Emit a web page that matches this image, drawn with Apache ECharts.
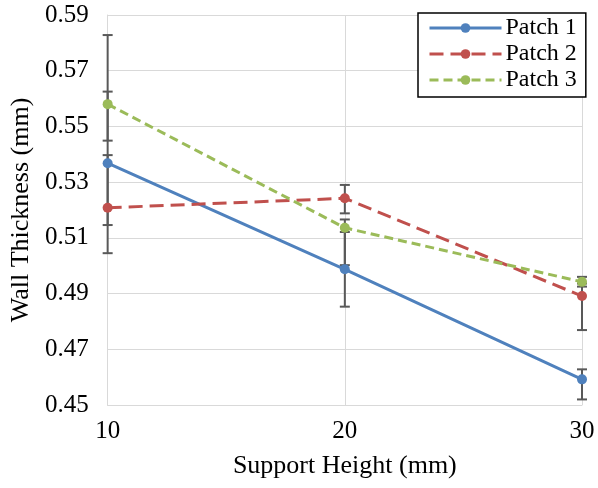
<!DOCTYPE html>
<html>
<head>
<meta charset="utf-8">
<script src="https://cdn.jsdelivr.net/npm/echarts@6/dist/echarts.min.js"></script>
<style>html,body{margin:0;padding:0;background:#fff}#c{width:598px;height:488px}</style>
</head>
<body>
<div id="c"></div>
<script>
var xValues = [10, 20, 30];
var yTicks = ['0.45','0.47','0.49','0.51','0.53','0.55','0.57','0.59'];
var seriesNames = ['Patch 1', 'Patch 2', 'Patch 3'];
var patch1 = [0.5368, 0.4987, 0.4592];
var patch2 = [0.5208, 0.5242, 0.4891];
var patch3 = [0.5580, 0.5136, 0.4942];
var patch1Low = [0.5146, 0.4853, 0.4520];
var patch1High = [0.5625, 0.5121, 0.4628];
var patch2Low = [0.5045, 0.5188, 0.4769];
var patch2High = [0.5397, 0.5290, 0.4936];
var patch3Low = [0.5449, 0.5002, 0.4925];
var patch3High = [0.5828, 0.5166, 0.4960];

var colors = ['#4F81BD', '#C0504D', '#9BBB59'];
var dashes = ['solid', [14, 7], [9, 5]];
var values = [patch1, patch2, patch3];
var lows = [patch1Low, patch2Low, patch3Low];
var highs = [patch1High, patch2High, patch3High];
var font = '"Liberation Serif", "Times New Roman", serif';

var series = [];
for (var s = 0; s < 3; s++) {
  var errData = [];
  for (var i = 0; i < xValues.length; i++) errData.push([xValues[i], lows[s][i], highs[s][i]]);
  series.push({
    type: 'custom',
    name: 'err' + s,
    z: 1,
    silent: true,
    data: errData,
    renderItem: function (params, api) {
      var x = api.value(0);
      var lo = api.coord([x, api.value(1)]);
      var hi = api.coord([x, api.value(2)]);
      var hw = 5;
      var st = {stroke: '#595959', lineWidth: 2};
      return {type: 'group', children: [
        {type: 'line', shape: {x1: lo[0], y1: lo[1], x2: hi[0], y2: hi[1]}, style: st},
        {type: 'line', shape: {x1: lo[0] - hw, y1: lo[1], x2: lo[0] + hw, y2: lo[1]}, style: st},
        {type: 'line', shape: {x1: hi[0] - hw, y1: hi[1], x2: hi[0] + hw, y2: hi[1]}, style: st}
      ]};
    }
  });
}
for (var s2 = 0; s2 < 3; s2++) {
  var d = [];
  for (var j = 0; j < xValues.length; j++) d.push([xValues[j], values[s2][j]]);
  series.push({
    type: 'line',
    name: seriesNames[s2],
    z: 5,
    data: d,
    symbol: 'circle',
    symbolSize: 10,
    showSymbol: true,
    lineStyle: {color: colors[s2], width: 3, type: dashes[s2]},
    itemStyle: {color: colors[s2]}
  });
}

var chart = echarts.init(document.getElementById('c'));
chart.setOption({
  animation: false,
  backgroundColor: '#fff',
  grid: {left: 107, right: 16, top: 15, bottom: 83, containLabel: false},
  legend: {
    data: seriesNames,
    orient: 'vertical',
    left: 418,
    top: 13,
    padding: [3, 9, 5, 10],
    itemGap: 2,
    itemWidth: 72,
    itemHeight: 12,
    borderColor: '#000',
    borderWidth: 1.5,
    borderRadius: 0,
    backgroundColor: '#fff',
    lineStyle: {width: 3},
    textStyle: {fontFamily: font, fontSize: 24, color: '#000', padding: [0, 0, 0, -1]}
  },
  xAxis: {
    type: 'value',
    min: 10, max: 30, interval: 10,
    name: 'Support Height (mm)',
    nameLocation: 'middle',
    nameGap: 48,
    nameTextStyle: {fontFamily: font, fontSize: 26, color: '#000'},
    axisLine: {show: true, lineStyle: {color: '#D9D9D9', width: 1}},
    axisTick: {show: false},
    axisLabel: {fontFamily: font, fontSize: 25, color: '#000', margin: 14},
    splitLine: {show: true, lineStyle: {color: '#D9D9D9', width: 1}}
  },
  yAxis: {
    type: 'value',
    min: 0.45, max: 0.59, interval: 0.02,
    name: 'Wall Thickness (mm)',
    nameLocation: 'middle',
    nameGap: 69,
    nameRotate: 90,
    nameTextStyle: {fontFamily: font, fontSize: 26, color: '#000'},
    axisLine: {show: true, lineStyle: {color: '#D9D9D9', width: 1}},
    axisTick: {show: false},
    axisLabel: {
      fontFamily: font, fontSize: 25, color: '#000', margin: 19,
      formatter: function (v) {
        var k = Math.round((v - 0.45) / 0.02);
        return yTicks[k] !== undefined ? yTicks[k] : v.toFixed(2);
      }
    },
    splitLine: {show: true, lineStyle: {color: '#D9D9D9', width: 1}}
  },
  series: series
});
</script>
</body>
</html>
